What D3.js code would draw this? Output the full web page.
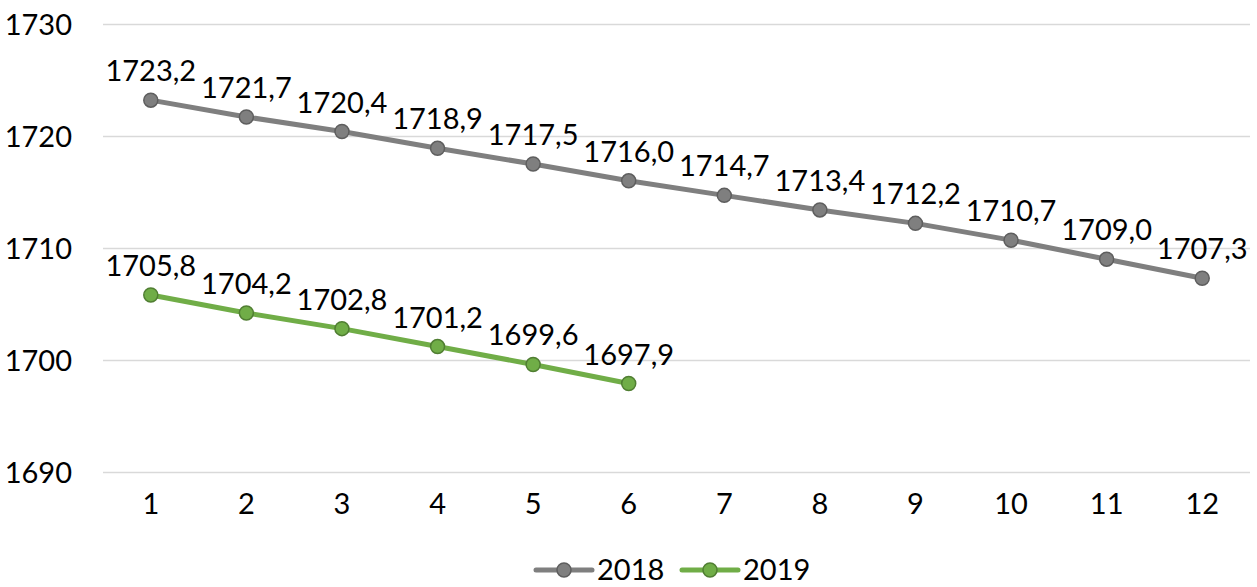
<!DOCTYPE html>
<html lang="en">
<head>
    <meta charset="UTF-8">
    <title>2018 / 2019</title>
    <script src="https://d3js.org/d3.v7.min.js"></script>
    <style>
        body { margin: 0; background: #fff; }
        svg { display: block; font-family: Lato, "Open Sans", sans-serif; }
        .tick line { stroke: #d9d9d9; }
        .domain { display: none; }
    </style>
</head>
<body>
    <div id="chart"></div>
    <script>
        // Chart data
        const months = [1, 2, 3, 4, 5, 6, 7, 8, 9, 10, 11, 12];
        const values2018 = [1723.2, 1721.7, 1720.4, 1718.9, 1717.5, 1716.0, 1714.7, 1713.4, 1712.2, 1710.7, 1709.0, 1707.3];
        const values2019 = [1705.8, 1704.2, 1702.8, 1701.2, 1699.6, 1697.9];
        const yTicks = [1690, 1700, 1710, 1720, 1730];
        const seriesNames = ["2018", "2019"];

        const series = [
            { name: seriesNames[0], values: values2018, color: "#7f7f7f", dark: "#5e5e5e" },
            { name: seriesNames[1], values: values2019, color: "#70ad47", dark: "#507e32" }
        ];

        const svgWidth = 1257;
        const svgHeight = 587;
        const margin = { top: 24, right: 7, bottom: 115, left: 103 };
        const width = svgWidth - margin.left - margin.right;
        const height = svgHeight - margin.top - margin.bottom;
        const fontSize = 29;

        const svg = d3.select("#chart").append("svg")
            .attr("width", svgWidth)
            .attr("height", svgHeight);

        const g = svg.append("g").attr("transform", `translate(${margin.left},${margin.top})`);

        const x = d3.scaleBand().domain(months).range([0, width]);
        const y = d3.scaleLinear().domain([1690, 1730]).range([height, 0]);

        // gridlines + y labels
        const yAxis = g.append("g")
            .call(d3.axisLeft(y).tickValues(yTicks).tickSize(-width).tickPadding(0).tickFormat(d3.format("d")));
        yAxis.selectAll("text")
            .attr("x", -31)
            .attr("dy", "0.35em")
            .style("font-size", fontSize + "px")
            .style("font-family", "Lato, sans-serif")
            .attr("fill", "#000");
        yAxis.selectAll("line").attr("stroke", "#d9d9d9").attr("stroke-width", 1.3);

        // x labels
        const xAxis = g.append("g")
            .attr("transform", `translate(0,${height})`)
            .call(d3.axisBottom(x).tickSize(0).tickPadding(21));
        xAxis.selectAll("text")
            .style("font-size", fontSize + "px")
            .style("font-family", "Lato, sans-serif")
            .attr("fill", "#000");

        const cx = i => x(months[i]) + x.bandwidth() / 2;
        const line = d3.line()
            .x((d, i) => cx(i))
            .y(d => y(d));

        const fmt = d => d3.format(".1f")(d).replace(".", ",");

        series.forEach(s => {
            g.append("path")
                .datum(s.values)
                .attr("fill", "none")
                .attr("stroke", s.color)
                .attr("stroke-width", 5)
                .attr("stroke-linejoin", "round")
                .attr("d", line);

            g.selectAll(null)
                .data(s.values)
                .enter().append("circle")
                .attr("cx", (d, i) => cx(i))
                .attr("cy", d => y(d))
                .attr("r", 7)
                .attr("fill", s.color)
                .attr("stroke", s.dark)
                .attr("stroke-width", 1.5);

            g.selectAll(null)
                .data(s.values)
                .enter().append("text")
                .attr("x", (d, i) => cx(i))
                .attr("y", d => y(d) - 19)
                .attr("text-anchor", "middle")
                .style("font-size", fontSize + "px")
                .attr("fill", "#000")
                .text(fmt);
        });

        // legend
        const legend = svg.append("g").attr("transform", `translate(0,${svgHeight - 17})`);
        const legendX = [536, 682];
        series.forEach((s, i) => {
            const lg = legend.append("g").attr("transform", `translate(${legendX[i]},0)`);
            lg.append("line")
                .attr("x1", 0).attr("x2", 56)
                .attr("stroke", s.color)
                .attr("stroke-width", 5)
                .attr("stroke-linecap", "round");
            lg.append("circle")
                .attr("cx", 28).attr("r", 7)
                .attr("fill", s.color)
                .attr("stroke", s.dark)
                .attr("stroke-width", 1.5);
            lg.append("text")
                .attr("x", 61)
                .attr("dy", "0.35em")
                .style("font-size", fontSize + "px")
                .attr("fill", "#000")
                .text(s.name);
        });
    </script>
</body>
</html>
